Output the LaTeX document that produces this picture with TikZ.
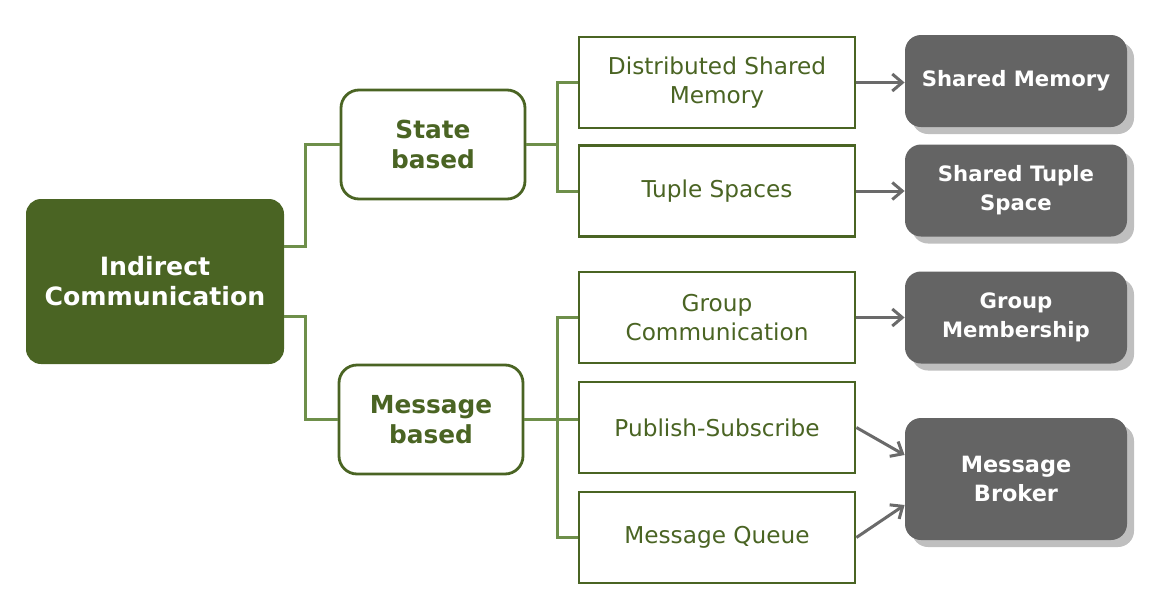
\documentclass[tikz,border=0pt]{standalone}
\usepackage{fontspec}
\setmainfont{DejaVu Sans}
\usetikzlibrary{shadows,arrows.meta}
\definecolor{darkgreen}{HTML}{4A6423}
\definecolor{linegreen}{HTML}{6E8F4A}
\definecolor{boxgray}{HTML}{646464}
\definecolor{arrowgray}{HTML}{6A6A6A}
\begin{document}
\begin{tikzpicture}[x=0.5pt,y=-0.5pt,
  root/.style={draw=darkgreen, fill=darkgreen, rounded corners=7pt, text=white, font=\bfseries\fontsize{12.6}{15}\selectfont, align=center, minimum width=128pt, minimum height=81.5pt, line width=1pt},
  kind/.style={draw=darkgreen, fill=white, rounded corners=9pt, text=darkgreen, font=\bfseries\fontsize{12.4}{15}\selectfont, align=center, minimum width=92pt, minimum height=54.5pt, line width=1.4pt},
  leaf/.style={draw=darkgreen, fill=white, text=darkgreen, font=\fontsize{11.6}{14.5}\selectfont, align=center, minimum width=138pt, minimum height=45.5pt, line width=1.4pt},
  impl/.style={fill=boxgray, rounded corners=8pt, text=white, font=\bfseries\fontsize{10.6}{14.5}\selectfont, align=center, minimum width=111pt, minimum height=46pt, drop shadow={shadow xshift=3.5pt, shadow yshift=-3.5pt, fill=black!25, opacity=1}},
  tree/.style={draw=linegreen, line width=1.5pt},
  link/.style={draw=arrowgray, line width=1.5pt, -{Straight Barb[length=5pt,width=8.5pt,line width=1.5pt]}}]
\useasboundingbox (0,0) rectangle (1164,606);

\node[root] (ic) at (155,281.5) {Indirect\\Communication};

\node[kind] (sb) at (433,144.5) {State\\based};
\node[kind] (mb) at (431,419.5) {Message\\based};

\node[leaf] (dsm) at (717,82.5) {Distributed Shared\\Memory};
\node[leaf] (ts) at (717,191) {Tuple Spaces};
\node[leaf] (gc) at (717,317.5) {Group\\Communication};
\node[leaf] (ps) at (717,427.5) {Publish-Subscribe};
\node[leaf] (mq) at (717,537.5) {Message Queue};

\node[impl] (sm) at (1016,81) {Shared Memory};
\node[impl] (sts) at (1016,190.5) {Shared Tuple\\Space};
\node[impl] (gm) at (1016,317.5) {Group\\Membership};
\node[impl, minimum height=61pt, font=\bfseries\fontsize{11.2}{14.5}\selectfont] (mbr) at (1016,479) {Message\\Broker};

% tree lines
\coordinate (s) at (557,144.5);
\coordinate (m) at (557,419.5);
\path[tree] (ic.east |- 0,246) -| (305,0 |- sb.west) -- (sb.west);
\path[tree] (ic.east |- 0,316) -| (305,0 |- mb.west) -- (mb.west);
\path[tree] (sb.east) -- (s);
\path[tree] (dsm.west) -| (s) |- (ts.west);
\path[tree] (mb.east) -- (m);
\path[tree] (gc.west) -| (m) |- (mq.west);
\path[tree] (m) -- (ps.west |- m);

% arrows
\path[link] (dsm.east) -- (sm.west |- dsm.east);
\path[link] (ts.east) -- (sts.west |- ts.east);
\path[link] (gc.east) -- (gm.west |- gc.east);
\path[link] (ps.east) -- (mbr.west |- 0,455);
\path[link] (mq.east) -- (mbr.west |- 0,505);
\end{tikzpicture}
\end{document}
